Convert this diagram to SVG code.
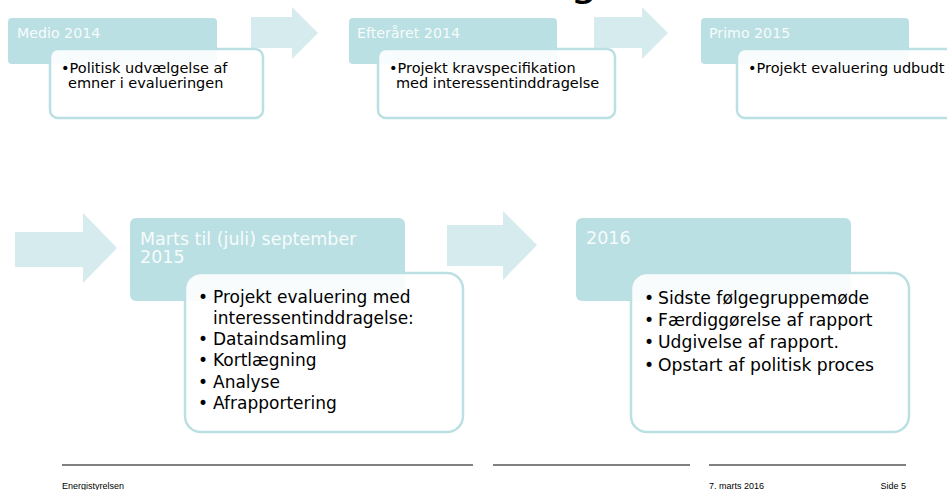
<svg xmlns="http://www.w3.org/2000/svg" width="947" height="490" viewBox="0 0 947 490">
<style>
.hdr{fill:#bbe0e3}
.box{fill:#ffffff;fill-opacity:0.9;stroke:#bbe0e3;stroke-width:2.5}
.arr{fill:#d6ebed}
.ht{font-family:"DejaVu Sans",Verdana,sans-serif;fill:#ffffff;fill-opacity:0.9}
.bt{font-family:"DejaVu Sans",Verdana,sans-serif;fill:#000000}
.ft{font-family:"Liberation Sans",Arial,sans-serif;font-size:9px;fill:#000000}
.rule{stroke:#808080;stroke-width:2}
</style>
<rect width="947" height="490" fill="#ffffff"/>
<text x="570" y="-5" font-family="DejaVu Sans,sans-serif" font-size="44" fill="#000">g</text>
<g id="connectors">
<polygon class="arr" points="251,17 292,17 292,7 318,33 292,59 292,48 251,48"/>
<polygon class="arr" points="594,17 642,17 642,7 668,33 642,59 642,48 594,48"/>
<polygon class="arr" points="15,232 83,232 83,213 117,248 83,283 83,267 15,267"/>
<polygon class="arr" points="447,225 503,225 503,211 537,245 503,280 503,266 447,266"/>
</g>
<g id="node1">
<rect class="hdr" x="8" y="18" width="209" height="46" rx="4"/>
<text class="ht" x="17" y="38" font-size="14.2">Medio 2014</text>
<rect class="box" x="50" y="49" width="213" height="69" rx="8"/>
<text class="bt" x="61" y="73" font-size="14.5">•Politisk udvælgelse af</text>
<text class="bt" x="68" y="88" font-size="14.5">emner i evalueringen</text>
</g>
<g id="node2">
<rect class="hdr" x="349" y="18" width="208" height="46" rx="4"/>
<text class="ht" x="357" y="38" font-size="14.2">Efteråret 2014</text>
<rect class="box" x="378" y="49" width="237" height="69" rx="8"/>
<text class="bt" x="389" y="73" font-size="14.5">•Projekt kravspecifikation</text>
<text class="bt" x="396" y="88" font-size="14.5">med interessentinddragelse</text>
</g>
<g id="node3">
<rect class="hdr" x="701" y="18" width="208" height="46" rx="4"/>
<text class="ht" x="709" y="38" font-size="14.2">Primo 2015</text>
<rect class="box" x="737" y="49" width="225" height="69" rx="8"/>
<text class="bt" x="748" y="73" font-size="14.5">•Projekt evaluering udbudt</text>
</g>
<g id="node4">
<rect class="hdr" x="130" y="218" width="275" height="83" rx="6"/>
<text class="ht" x="140" y="245" font-size="17.5">Marts til (juli) september</text>
<text class="ht" x="140" y="263" font-size="17.5">2015</text>
<rect class="box" x="185" y="273" width="278" height="159" rx="16"/>
<g class="bt" font-size="17">
<text x="198" y="303">•</text><text x="213" y="303">Projekt evaluering med</text>
<text x="213" y="323.5">interessentinddragelse:</text>
<text x="198" y="345">•</text><text x="213" y="345">Dataindsamling</text>
<text x="198" y="366">•</text><text x="213" y="366">Kortlægning</text>
<text x="198" y="387.5">•</text><text x="213" y="387.5">Analyse</text>
<text x="198" y="409">•</text><text x="213" y="409">Afrapportering</text>
</g>
</g>
<g id="node5">
<rect class="hdr" x="576" y="218" width="275" height="83" rx="6"/>
<text class="ht" x="586" y="244" font-size="17.5">2016</text>
<rect class="box" x="631" y="273" width="278" height="159" rx="16"/>
<g class="bt" font-size="17.2">
<text x="644" y="304">•</text><text x="658" y="304">Sidste følgegruppemøde</text>
<text x="644" y="326">•</text><text x="658" y="326">Færdiggørelse af rapport</text>
<text x="644" y="348.3">•</text><text x="658" y="348.3">Udgivelse af rapport.</text>
<text x="644" y="370.7">•</text><text x="658" y="370.7">Opstart af politisk proces</text>
</g>
</g>
<g id="footer">
<line class="rule" x1="62" y1="465" x2="473" y2="465"/>
<line class="rule" x1="493" y1="465" x2="690" y2="465"/>
<line class="rule" x1="709" y1="465" x2="906" y2="465"/>
<text class="ft" x="62" y="489">Energistyrelsen</text>
<text class="ft" x="709" y="489">7. marts 2016</text>
<text class="ft" x="906" y="489" text-anchor="end">Side 5</text>
</g>
</svg>
